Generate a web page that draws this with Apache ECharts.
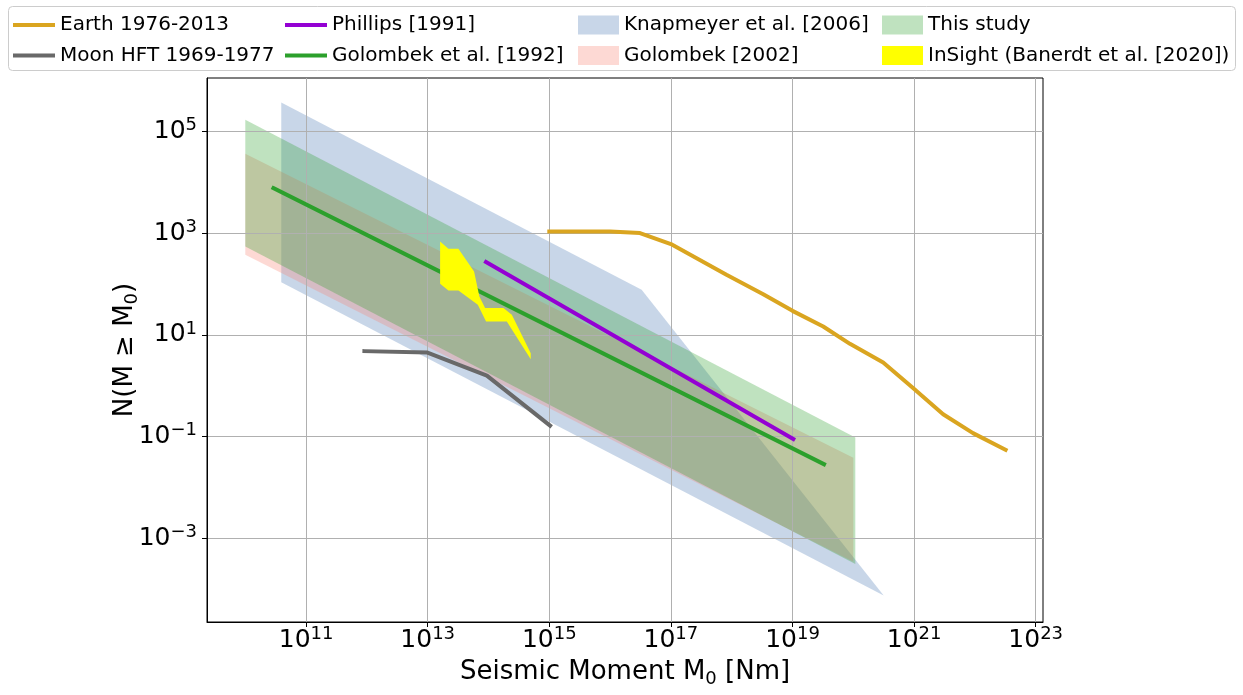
<!DOCTYPE html>
<html><head><meta charset="utf-8">
<script src="https://cdn.jsdelivr.net/npm/echarts@6/dist/echarts.min.js"></script>
<style>html,body{margin:0;padding:0;background:#fff}#c{width:1243px;height:695px}</style>
</head><body><div id="c"></div>
<script>
// ---- data (seismic moment M0 [Nm], cumulative number N) ----
const earthM0 = [1.0e15, 1.0e16, 3.1e16, 1.0e17, 8.2e17, 3.3e18, 1.0e19, 3.2e19, 8.8e19, 3.1e20, 9.6e20, 3.0e21, 9.3e21, 3.2e22];
const earthN  = [1070, 1070, 1000, 608, 151, 63, 29.6, 14.6, 6.65, 2.85, 0.90, 0.275, 0.117, 0.0547];

const moonM0 = [9.1e11, 9.9e12, 9.4e13, 1.03e15];
const moonN  = [4.78, 4.49, 1.58, 0.164];

const phillipsM0 = [9.1e13, 1.03e19];
const phillipsN  = [269, 0.090];

const golombek92M0 = [2.9e10, 3.3e19];
const golombek92N  = [7670, 0.0286];

// polygons (vertices in order)
const knapM0 = [3.9e10, 3.3e16, 3.16e20, 3.9e10];
const knapN  = [3.7e5, 76.7, 7.5e-5, 108.6];

const golombek02M0 = [1e10, 1e20, 1e20, 1e10];
const golombek02N  = [3.63e4, 0.0386, 3.48e-4, 374];

const thisStudyM0 = [1e10, 1.08e20, 1.08e20, 1e10];
const thisStudyN  = [1.69e5, 0.0955, 3.14e-4, 545];

const insightM0 = [1.60e13, 2.19e13, 3.20e13, 5.79e13, 7.08e13, 8.79e13, 1.76e14, 2.42e14, 4.95e14, 4.95e14, 2.0e14, 9.12e13, 6.67e13, 3.20e13, 2.19e13, 1.60e13];
const insightN  = [684, 491, 491, 176, 56.6, 33.5, 33.5, 24.7, 4.37, 3.33, 18.3, 18.3, 38.9, 74.3, 74.3, 101];

// tick labels (decade exponents)
const xTickExp = [11, 13, 15, 17, 19, 21, 23];
const yTickExp = [-3, -1, 1, 3, 5];

// ---- chart ----
const FONT = 'DejaVu Sans';
const lg = v => Math.log10(v);
const toPts = (m, n) => m.map((v, i) => [lg(v), lg(n[i])]);

function polySeries(name, m0, n, color, z) {
  const pts = toPts(m0, n);
  return {
    type: 'custom', name, z, data: pts, silent: true, clip: true,
    itemStyle: { color },
    renderItem: (params, api) => {
      if (params.dataIndex !== 0) return null;
      return { type: 'polygon', shape: { points: pts.map(p => api.coord(p)) }, style: { fill: color } };
    }
  };
}
function lineSeries(name, m0, n, color) {
  return {
    type: 'line', name, z: 3, data: toPts(m0, n), showSymbol: false, symbol: 'none', silent: true,
    lineStyle: { width: 4, color, cap: 'square', join: 'round' }, itemStyle: { color }
  };
}
const expTxt = v => String(Math.round(v)).replace('-', '\u2212');
const tickRich = {
  b: { fontSize: 25, lineHeight: 30, fontFamily: FONT, color: '#000' },
  s: { fontSize: 18, lineHeight: 18, verticalAlign: 'top', fontFamily: FONT, color: '#000' }
};
const nameRich = {
  n: { fontSize: 26, lineHeight: 32, fontFamily: FONT, color: '#000' },
  sub: { fontSize: 18, lineHeight: 18, verticalAlign: 'bottom', fontFamily: FONT, color: '#000' }
};
const legendText = { fontSize: 20, lineHeight: 20, fontFamily: FONT, color: '#000' };
const lineLegend = (left, names) => ({
  left, top: 15, orient: 'vertical', padding: 0, itemGap: 10.5, itemWidth: 42, itemHeight: 4,
  icon: 'rect', data: names, textStyle: legendText, selectedMode: false
});
const patchLegend = (left, names) => ({
  left, top: 15, orient: 'vertical', padding: 0, itemGap: 10.5, itemWidth: 41, itemHeight: 19,
  icon: 'rect', data: names, textStyle: legendText, selectedMode: false
});

const option = {
  animation: false,
  backgroundColor: '#fff',
  graphic: [{
    type: 'rect', z: 0,
    shape: { x: 8.5, y: 6.5, width: 1227, height: 64, r: 4 },
    style: { fill: 'rgba(255,255,255,0.8)', stroke: '#cccccc', lineWidth: 1 }
  }],
  legend: [
    lineLegend(13, ['Earth 1976-2013', 'Moon HFT 1969-1977']),
    lineLegend(285, ['Phillips [1991]', 'Golombek et al. [1992]']),
    patchLegend(578, ['Knapmeyer et al. [2006]', 'Golombek [2002]']),
    patchLegend(882, ['This study', 'InSight (Banerdt et al. [2020])'])
  ],
  grid: { left: 207, top: 78, width: 836, height: 544, show: true, borderColor: '#000', borderWidth: 1, backgroundColor: 'transparent' },
  xAxis: {
    type: 'value', min: 9.37, max: 23.12, z: 2,
    name: '{n|Seismic Moment M}{sub|0}{n| [Nm]}', nameLocation: 'middle', nameGap: 34, nameMoveOverlap: false,
    nameTextStyle: { rich: nameRich },
    axisLine: { show: true, onZero: false, lineStyle: { color: '#000', width: 1 } },
    axisTick: { show: true, customValues: xTickExp, length: 5, lineStyle: { color: '#000', width: 1 } },
    axisLabel: { customValues: xTickExp, margin: 3, formatter: v => '{b|10}{s|' + expTxt(v) + '}', rich: tickRich },
    splitLine: { show: true, lineStyle: { color: '#b0b0b0', width: 1 } }
  },
  yAxis: {
    type: 'value', min: -4.644, max: 6.048, z: 2,
    name: '{n|N(M \u2265 M}{sub|0}{n|)}', nameLocation: 'middle', nameGap: 66, nameRotate: 90, nameMoveOverlap: false,
    nameTextStyle: { rich: nameRich },
    axisLine: { show: true, onZero: false, lineStyle: { color: '#000', width: 1 } },
    axisTick: { show: true, customValues: yTickExp, length: 5, lineStyle: { color: '#000', width: 1 } },
    axisLabel: { customValues: yTickExp, margin: 10, formatter: v => '{b|10}{s|' + expTxt(v) + '}', rich: tickRich },
    splitLine: { show: true, lineStyle: { color: '#b0b0b0', width: 1 } }
  },
  series: [
    lineSeries('Earth 1976-2013', earthM0, earthN, '#DAA520'),
    lineSeries('Moon HFT 1969-1977', moonM0, moonN, '#696969'),
    lineSeries('Phillips [1991]', phillipsM0, phillipsN, '#9400D3'),
    lineSeries('Golombek et al. [1992]', golombek92M0, golombek92N, '#2ca02c'),
    polySeries('Knapmeyer et al. [2006]', knapM0, knapN, 'rgba(176,196,222,0.7)', 1),
    polySeries('Golombek [2002]', golombek02M0, golombek02N, 'rgba(250,128,114,0.3)', 1),
    polySeries('This study', thisStudyM0, thisStudyN, 'rgba(44,160,44,0.3)', 1),
    polySeries('InSight (Banerdt et al. [2020])', insightM0, insightN, '#FFFF00', 4)
  ]
};
const chart = echarts.init(document.getElementById('c'), null, { renderer: 'canvas' });
chart.setOption(option);
</script>
</body></html>
